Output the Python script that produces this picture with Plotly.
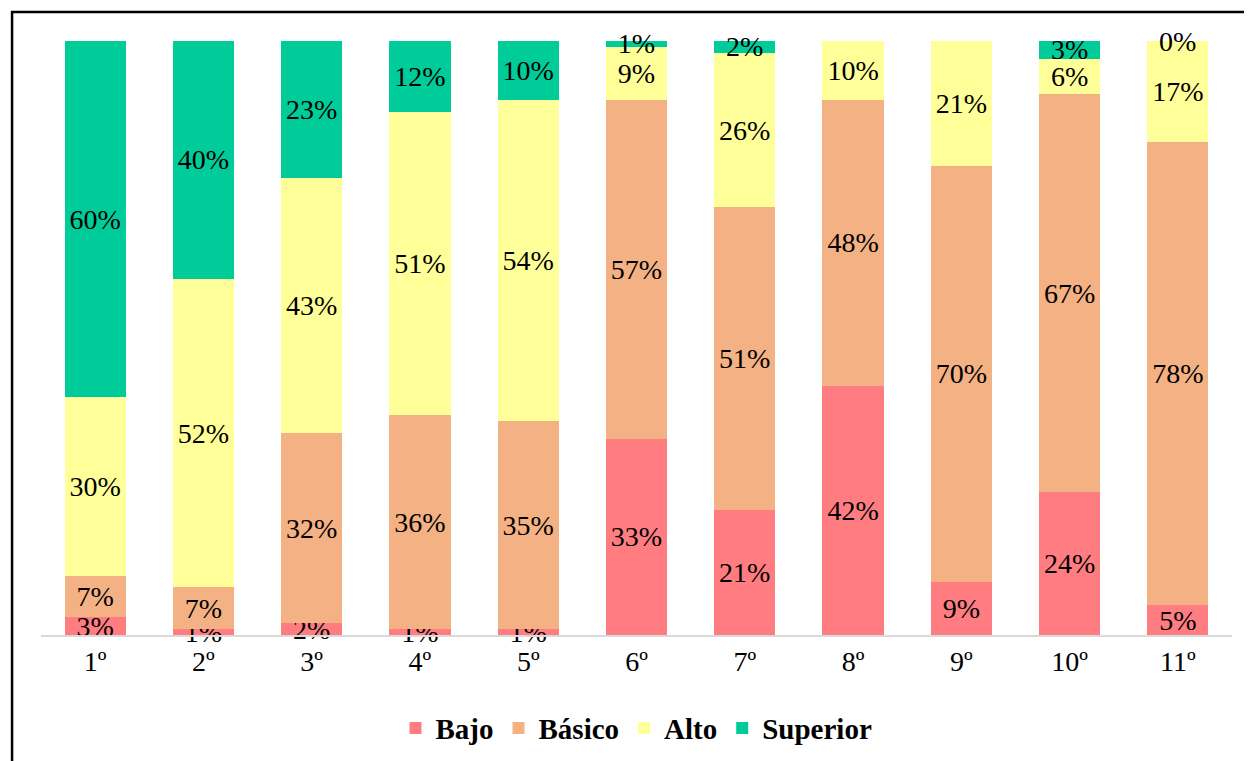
import plotly.graph_objects as go

grados = ['1º', '2º', '3º', '4º', '5º', '6º', '7º', '8º', '9º', '10º', '11º']
bajo = [3, 1, 2, 1, 1, 33, 21, 42, 9, 24, 5]
basico = [7, 7, 32, 36, 35, 57, 51, 48, 70, 67, 78]
alto = [30, 52, 43, 51, 54, 9, 26, 10, 21, 6, 17]
superior = [60, 40, 23, 12, 10, 1, 2, 0, 0, 3, 0]
# labels hidden where Excel showed none
superior_labels = ['60%', '40%', '23%', '12%', '10%', '1%', '2%', '', '', '3%', '0%']

FONT = 'Liberation Serif, Times New Roman, serif'

series = [
    ('Bajo', bajo, '#FF7C80', [f'{v}%' for v in bajo]),
    ('Básico', basico, '#F4B183', [f'{v}%' for v in basico]),
    ('Alto', alto, '#FFFF99', [f'{v}%' for v in alto]),
    ('Superior', superior, '#00CC99', superior_labels),
]

fig = go.Figure()
base = [0] * len(grados)
for name, vals, color, labels in series:
    fig.add_trace(go.Bar(
        x=grados, y=vals, name=name,
        marker=dict(color=color, line=dict(width=0)),
        text=labels, textposition='inside', insidetextanchor='middle',
        constraintext='none', textangle=0, cliponaxis=False,
        textfont=dict(family=FONT, size=28, color='black'),
    ))
    # zero-height segments get no bar text from plotly, so label them here
    for i, (v, lab) in enumerate(zip(vals, labels)):
        if v == 0 and lab:
            fig.add_annotation(x=grados[i], y=base[i] + v, text=lab, showarrow=False,
                               yanchor='middle', font=dict(family=FONT, size=28, color='black'))
    base = [b + v for b, v in zip(base, vals)]

# page body has an 8px margin, so the figure is shifted by that amount
fig.update_layout(
    barmode='stack',
    bargap=0.435,
    width=1244, height=753,
    margin=dict(l=33, r=20, t=33, b=126, autoexpand=False),
    plot_bgcolor='white', paper_bgcolor='white',
    font=dict(family=FONT, color='black'),
    xaxis=dict(showline=True, linecolor='#D9D9D9', linewidth=2, ticks='',
               tickfont=dict(family=FONT, size=28, color='black'),
               showgrid=False),
    yaxis=dict(range=[0, 100], visible=False, showgrid=False),
    legend=dict(orientation='h', x=0.5, xanchor='center', y=-0.157, yanchor='middle',
                traceorder='normal',
                font=dict(family=FONT, size=29, color='black', weight='bold'),
                itemclick=False),
    showlegend=True,
)

# chart frame (only left and top edges fall inside the picture)
fig.add_shape(type='rect', xref='paper', yref='paper',
              x0=-0.0243, y0=-0.3, x1=1.2, y1=1.0488,
              line=dict(color='black', width=2.5), fillcolor='rgba(0,0,0,0)')

fig.write_html('out.html')
